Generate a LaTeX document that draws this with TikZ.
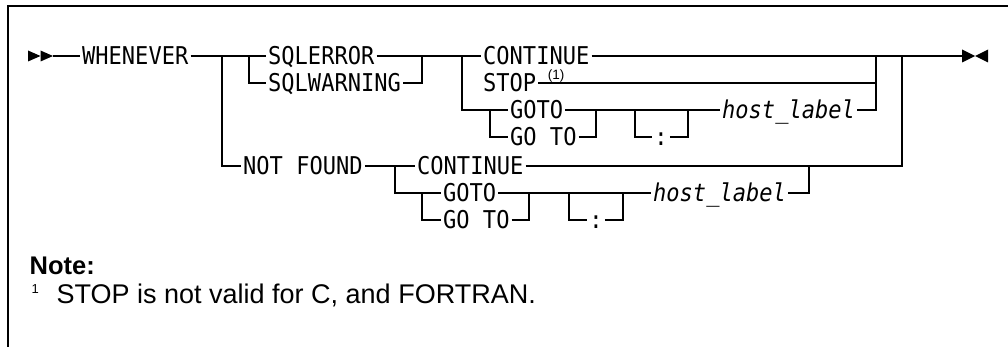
\documentclass[tikz,border=0pt]{standalone}
\usepackage{fontspec}
\newfontfamily\rrfont[FakeStretch=0.9, ItalicFont={DejaVu Sans Mono Oblique}]{DejaVu Sans Mono}
\newfontfamily\notefont{Liberation Sans}
\usetikzlibrary{positioning}

\begin{document}
\begin{tikzpicture}[x=1pt, y=-1pt, line width=1.3pt,
    kw/.style={font=\rrfont\fontsize{24.5}{28}\selectfont, inner xsep=1.5pt, inner ysep=0pt,
               text height=19.6pt, text depth=1.7pt, anchor=west},
    var/.style={kw, font=\rrfont\itshape\fontsize{24.5}{28}\selectfont},
    notetxt/.style={inner sep=0pt, anchor=base west}]

    \useasboundingbox (0,0) rectangle (1008,347);
    \draw[line width=1.5pt] (1008,6) -- (8,6) -- (8,347);

    % keywords
    \coordinate (start) at (53,56);
    \node[kw] (whenever) at (80,56) {WHENEVER};
    \node[kw] (sqlerror) at (266,56) {SQLERROR};
    \node[kw] (sqlwarning) at (266,83) {SQLWARNING};
    \node[kw] (cont1) at (481,56) {CONTINUE};
    \node[kw] (stop) at (481,83) {STOP};
    \node[notetxt, anchor=base, font=\notefont\fontsize{13.5}{16}\selectfont] (fn) at (556,79.5) {(1)};
    \node[kw] (goto1) at (508,110) {GOTO};
    \node[kw] (gosp1) at (508,137) {GO TO};
    \node[kw, anchor=center] (colon1) at (661,137) {:};
    \node[var] (host1) at (720,110) {host\char95 label};
    \node[kw] (notfound) at (241,166) {NOT FOUND};
    \node[kw] (cont2) at (415,166) {CONTINUE};
    \node[kw] (goto2) at (441,193) {GOTO};
    \node[kw] (gosp2) at (441,220) {GO TO};
    \node[kw, anchor=center] (colon2) at (596,220) {:};
    \node[var] (host2) at (651,193) {host\char95 label};
    \coordinate (finish) at (962,56);

    % junctions
    \coordinate (a1) at (222,56);  \coordinate (a5) at (222,166);
    \coordinate (b1) at (249,56);  \coordinate (b2) at (249,83);
    \coordinate (c1) at (422,56);  \coordinate (c2) at (422,83);
    \coordinate (d1) at (462,56);  \coordinate (d3) at (462,110);
    \coordinate (e3) at (490,110); \coordinate (e4) at (490,137);
    \coordinate (f3) at (596,110); \coordinate (f4) at (596,137);
    \coordinate (g3) at (635,110); \coordinate (g4) at (635,137);
    \coordinate (h3) at (688,110); \coordinate (h4) at (688,137);
    \coordinate (i1) at (876,56);  \coordinate (i2) at (876,83);  \coordinate (i3) at (876,110);
    \coordinate (j1) at (902,56);  \coordinate (j5) at (902,166);
    \coordinate (k5) at (395,166); \coordinate (k6) at (395,193);
    \coordinate (l6) at (422,193); \coordinate (l7) at (422,220);
    \coordinate (m6) at (529,193); \coordinate (m7) at (529,220);
    \coordinate (n6) at (569,193); \coordinate (n7) at (569,220);
    \coordinate (o6) at (623,193); \coordinate (o7) at (623,220);
    \coordinate (p5) at (809,166); \coordinate (p6) at (809,193);

    % start and end marks
    \fill (start) ++(-25,-5.5) -- ++(12.5,5.5) -- ++(-12.5,5.5) -- cycle;
    \fill (start) ++(-12.5,-5.5) -- ++(12.5,5.5) -- ++(-12.5,5.5) -- cycle;
    \fill (finish) -- ++(0,-6.5) -- ++(13,6.5) -- ++(-13,6.5) -- cycle;
    \fill ([xshift=13pt]finish) -- ++(13,-6.5) -- ++(0,13) -- cycle;

    % main line
    \draw (start) -- (whenever.west);
    \draw (whenever.east) -- (sqlerror.west);
    \draw (a1) -- (a5) -- (notfound.west);
    \draw (b1) -- (b2) -- (sqlwarning.west);
    \draw (sqlerror.east) -- (cont1.west);
    \draw (sqlwarning.east) -- (c2) -- (c1);
    \draw (d1) -- (d3) -- (goto1.west);
    \draw (e3) -- (e4) -- (gosp1.west);
    \draw (goto1.east) -- (host1.west);
    \draw (gosp1.east) -- (f4) -- (f3);
    \draw (g3) -- (g4) -- (colon1.west);
    \draw (colon1.east) -- (h4) -- (h3);
    \draw (host1.east) -- (i3) -- (i1);
    \draw (stop.east) -- (i2);
    \draw (cont1.east) -- (finish);

    % not found branch
    \draw (notfound.east) -- (cont2.west);
    \draw (cont2.east) -- (j5) -- (j1);
    \draw (k5) -- (k6) -- (goto2.west);
    \draw (l6) -- (l7) -- (gosp2.west);
    \draw (goto2.east) -- (host2.west);
    \draw (gosp2.east) -- (m7) -- (m6);
    \draw (n6) -- (n7) -- (colon2.west);
    \draw (colon2.east) -- (o7) -- (o6);
    \draw (host2.east) -- (p6) -- (p5);

    % note
    \node[notetxt, font=\notefont\bfseries\fontsize{25.5}{30}\selectfont] (note) at (29,274) {Note:};
    \node[notetxt, font=\notefont\fontsize{13}{15}\selectfont] (notemark) at (31,293) {1};
    \node[notetxt, font=\notefont\fontsize{27}{32}\selectfont] (notetext) at (56,303) {STOP is not valid for C, and FORTRAN.};
\end{tikzpicture}
\end{document}
